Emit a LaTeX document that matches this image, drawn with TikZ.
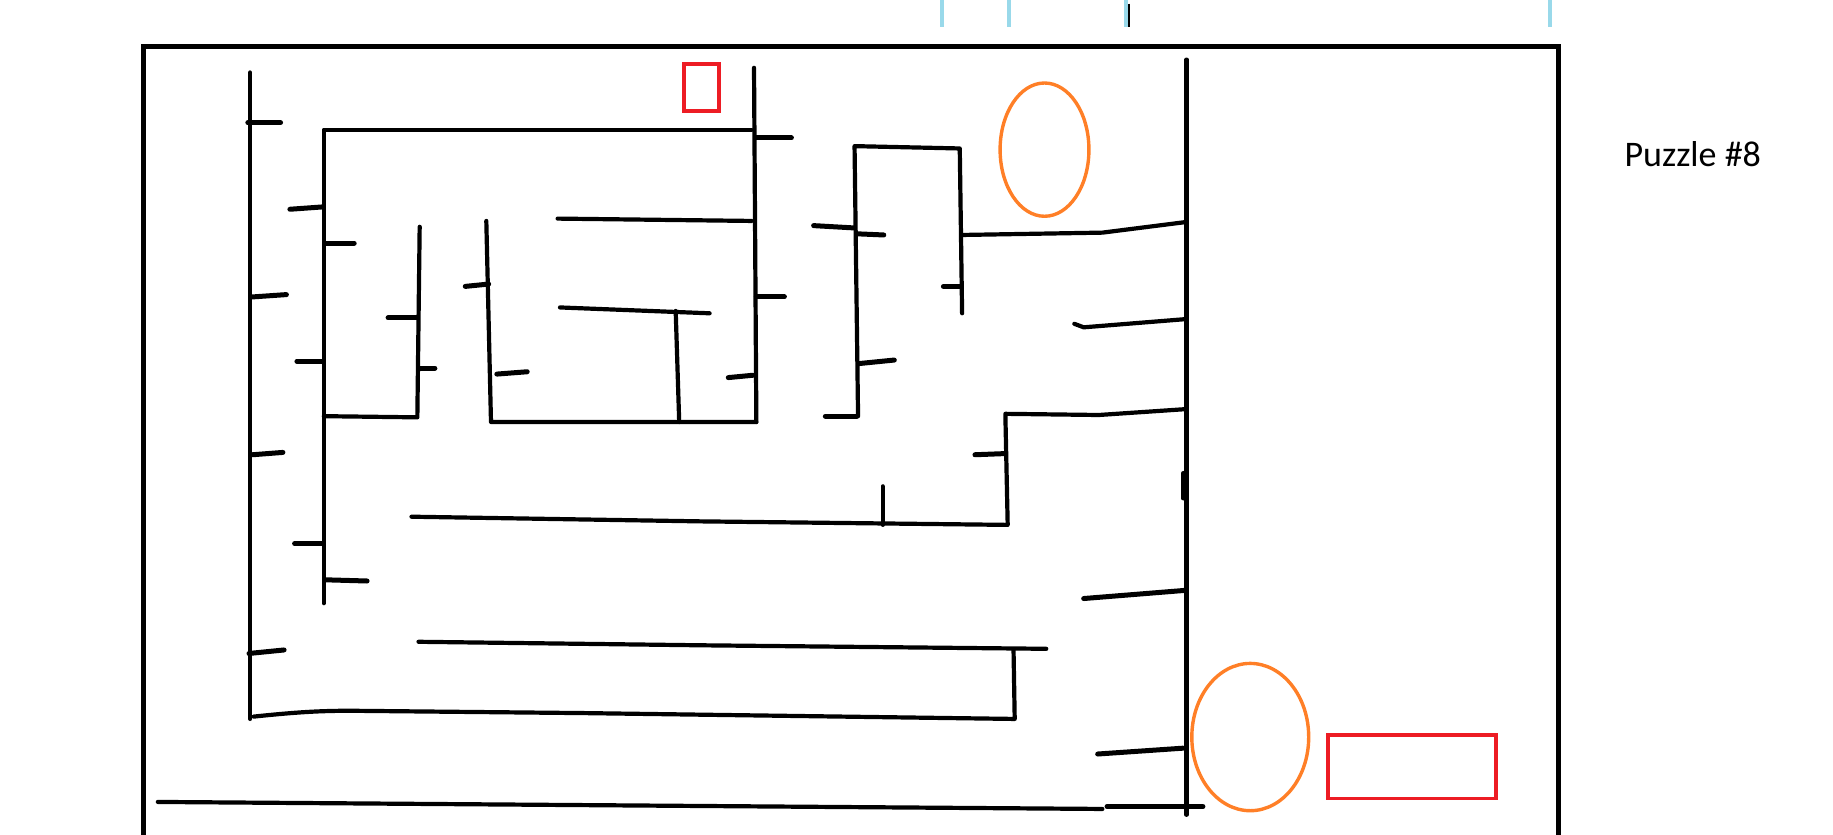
\documentclass[tikz,border=0pt]{standalone}
\usepackage{fontspec}
\newfontfamily\calib{Carlito}
\definecolor{paintorange}{RGB}{255,127,39}
\definecolor{paintred}{RGB}{237,28,36}
\definecolor{paintblue}{RGB}{153,217,234}
\begin{document}
\begin{tikzpicture}[x=1.169pt,y=-1.169pt,
  wall/.style={line width=4.2pt,line cap=round,line join=round},
  tickw/.style={line width=5pt,line cap=round},
  frame/.style={line width=5pt},
  guide/.style={paintblue,line width=3.5pt},
  ring/.style={paintorange,line width=3.4pt},
  marker/.style={paintred,line width=3.8pt}]
\useasboundingbox (0,0) rectangle (1568,714);
% outer frame
\draw[frame] (123,716) -- (123,40) -- (1333,40) -- (1333,716);
% guide ticks at top
\foreach \gx in {806,863,963,1326} \draw[guide] (\gx,0) -- (\gx,23);
\draw[line width=2pt] (966,3) -- (966,23);
% title
\node[anchor=base,font=\calib\fontsize{36}{40}\selectfont] (title) at (1448,142.6) {Puzzle \#8};
% red markers and orange rings
\draw[marker] (585,55) rectangle (615,95);
\draw[marker] (1136,629) rectangle (1280,683);
\draw[ring] (893.5,128) ellipse [x radius=38, y radius=57];
\draw[ring] (1069.5,630.5) ellipse [x radius=50, y radius=63];
% wall A and ticks
\draw[wall] (214,62) -- (214,615);
\draw[tickw] (212,105) -- (240,105);
\draw[tickw] (216,254) -- (245,252);
\draw[tickw] (216,389) -- (242,387);
\draw[tickw] (213,559) -- (243,556);
% bottom curve of A
\draw[wall] (217,613) .. controls (255,609) and (275,608) .. (300,608) -- (500,610) -- (868,615) -- (867,556);
\draw[wall] (358,549) -- (600,552) -- (895,555);
% wall B
\draw[wall] (277,516) -- (277,111) -- (643,111);
\draw[tickw] (248,179) -- (276,177);
\draw[tickw] (279,208) -- (303,208);
\draw[tickw] (254,309) -- (276,309);
\draw[tickw] (252,465) -- (276,465);
\draw[tickw] (279,496) -- (314,497);
\draw[wall] (277,356) -- (357,357) -- (359,194);
\draw[tickw] (332,272) -- (357,272);
\draw[tickw] (359,315) -- (372,315);
% wall F and inner box bottom
\draw[wall] (416,189) -- (420,361) -- (647,361);
\draw[tickw] (398,245) -- (418,243);
\draw[tickw] (425,320) -- (451,318);
% wall G
\draw[wall] (645,58) -- (647,361);
\draw[tickw] (647,118) -- (677,118);
\draw[tickw] (647,254) -- (671,254);
\draw[tickw] (623,323) -- (644,321);
\draw[wall] (477,187) -- (643,189);
\draw[wall] (479,263) -- (607,268);
\draw[wall] (578,266) -- (581,361);
% structure H
\draw[wall] (734,356) -- (731,125) -- (821,127) -- (823,268);
\draw[tickw] (706,356) -- (733,356);
\draw[tickw] (696,193) -- (731,195);
\draw[tickw] (733,200) -- (756,201);
\draw[tickw] (735,311) -- (765,308);
\draw[tickw] (807,245) -- (822,245);
% wall D
\draw[wall] (352,442) -- (600,446) -- (862,449) -- (860,354) -- (940,355) -- (1014,350);
\draw[wall] (755,416) -- (755,449);
\draw[tickw] (834,389) -- (860,388);
% right wall E
\draw[wall] (1015,51) -- (1015,697);
\draw[tickw] (1012,405) -- (1012,426);
\draw[wall] (823,201) -- (943,199) -- (1014,190);
\draw[wall] (919,277) -- (927,280) -- (1014,273);
\draw[tickw] (927,512) -- (1014,505);
\draw[tickw] (939,645) -- (1012,640);
% bottom line
\draw[wall] (135,686) -- (943,692);
\draw[tickw] (947,690) -- (1029,690);
\end{tikzpicture}
\end{document}
